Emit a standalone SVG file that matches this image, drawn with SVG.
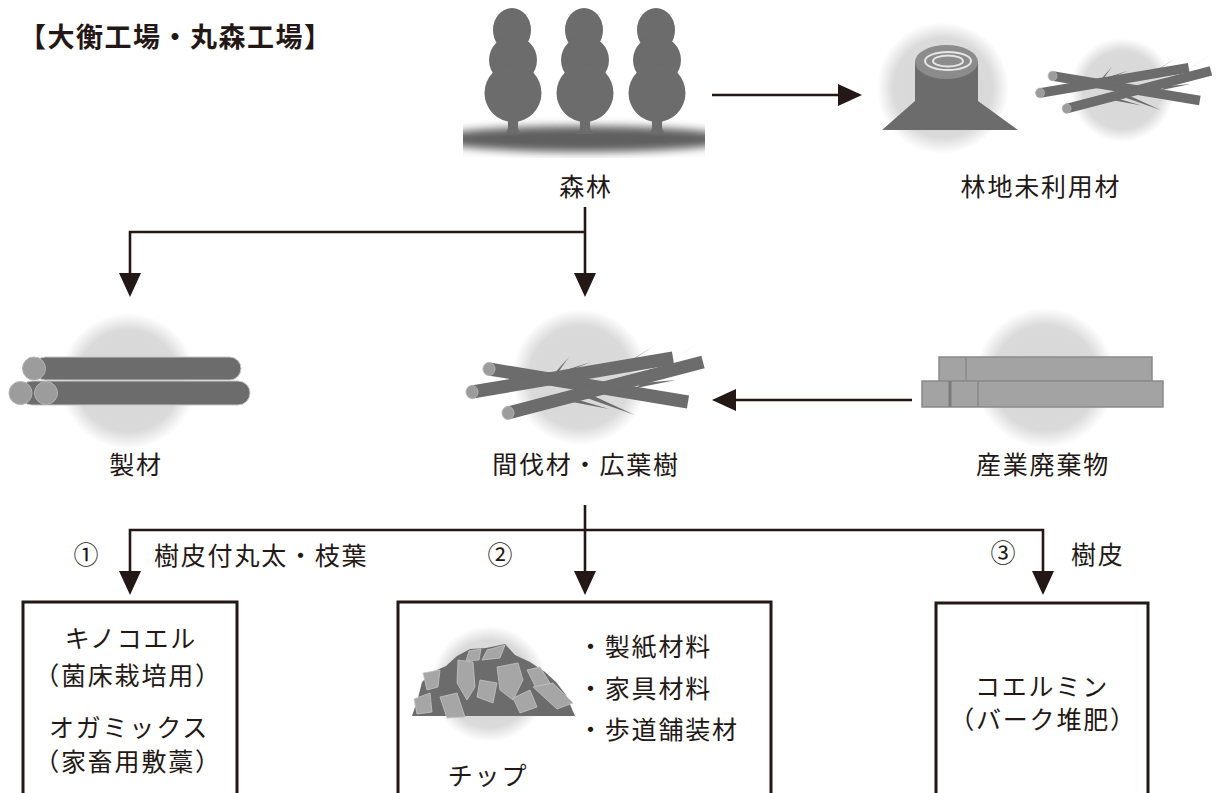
<svg xmlns="http://www.w3.org/2000/svg" width="1216" height="793" viewBox="0 0 1216 793">
  <style>
    .t { font-family: "Noto Sans CJK JP", "Noto Sans", sans-serif; font-size: 25px; letter-spacing: 1.8px; fill: #231815; }
    .mid { text-anchor: middle; }
    .title { font-size: 27px; font-weight: bold; letter-spacing: 1.5px; }
    .conn { fill: none; stroke: #231815; stroke-width: 2.6; }
    .box { fill: none; stroke: #231815; stroke-width: 3; }
    .dark { fill: #6c6c6c; }
    .cap { fill: #9c9c9c; stroke: #b4b4b4; stroke-width: 1; }
    .stick { stroke: #6c6c6c; stroke-width: 13; stroke-linecap: butt; fill: none; }
    .board { fill: #a3a3a3; stroke: #8a8a8a; stroke-width: 1.5; }
    .chip { fill: #a6a6a6; stroke: #c4c4c4; stroke-width: 0.8; }
  </style>
  <defs>
    <marker id="arrow" markerUnits="userSpaceOnUse" markerWidth="24" markerHeight="22" refX="12" refY="11" orient="auto">
      <path d="M0,0 L24,11 L0,22 Z" fill="#231815"/>
    </marker>
    <radialGradient id="halo">
      <stop offset="0" stop-color="#d8d8d8"/>
      <stop offset="0.75" stop-color="#dadada"/>
      <stop offset="1" stop-color="#dadada" stop-opacity="0"/>
    </radialGradient>
    <filter id="soft" x="-10%" y="-10%" width="120%" height="120%">
      <feGaussianBlur stdDeviation="0.7"/>
    </filter>
    <filter id="shadowBlur" x="-20%" y="-100%" width="140%" height="300%">
      <feGaussianBlur stdDeviation="4"/>
    </filter>
    <clipPath id="forestClip">
      <rect x="463" y="5" width="242" height="153"/>
    </clipPath>
    <!-- a bundle of thinning logs with twigs -->
    <g id="branches">
      <polygon class="dark" points="553,375 559,371 569,357"/>
      <polygon class="dark" points="561,374 566,370 591,362"/>
      <polygon class="dark" points="622,367 630,361 655,345"/>
      <polygon class="dark" points="666,365 676,358 702,340"/>
      <polygon class="dark" points="581,396 587,393 635,415"/>
      <polygon class="dark" points="567,401 572,398 609,409"/>
      <polygon class="dark" points="636,388 642,383 676,380"/>
      <line class="stick" x1="489" y1="369" x2="688" y2="402"/>
      <line class="stick" x1="472" y1="392" x2="673" y2="358"/>
      <line class="stick" x1="508" y1="413" x2="703" y2="362"/>
      <ellipse class="cap" cx="489" cy="369" rx="6" ry="6.5"/>
      <ellipse class="cap" cx="472" cy="392" rx="6" ry="6.5"/>
      <ellipse class="cap" cx="508" cy="413" rx="6" ry="6.5"/>
    </g>
  </defs>

  <rect width="1216" height="793" fill="#ffffff"/>

  <!-- heading -->
  <text class="t title" x="19" y="47">【大衡工場・丸森工場】</text>

  <!-- forest -->
  <g id="forest">
    <g clip-path="url(#forestClip)">
      <ellipse cx="584" cy="139" rx="150" ry="13" fill="#5e5e5e" filter="url(#shadowBlur)"/>
    </g>
    <g class="dark" filter="url(#soft)">
      <g id="tree">
        <ellipse cx="512" cy="30" rx="19" ry="22"/>
        <ellipse cx="513" cy="60" rx="24" ry="24"/>
        <ellipse cx="513" cy="93" rx="28.5" ry="29"/>
        <path d="M508,104 H518 V128 Q519,133 523,134 H503 Q507,133 508,128 Z"/>
      </g>
      <use href="#tree" x="72"/>
      <use href="#tree" x="144"/>
    </g>
    <text class="t mid" x="586" y="196">森林</text>
  </g>

  <!-- unused forest residue -->
  <g id="residue">
    <circle cx="943" cy="88" r="66" fill="url(#halo)"/>
    <circle cx="1122" cy="90" r="52" fill="url(#halo)"/>
    <g filter="url(#soft)">
      <path class="dark" d="M915,62 H978 V101 L1018,130 H882 L915,101 Z"/>
      <ellipse cx="946.5" cy="62" rx="31.5" ry="17" fill="#8c8c8c"/>
      <ellipse cx="948" cy="61" rx="23" ry="9" fill="none" stroke="#e6e6e6" stroke-width="2"/>
      <ellipse cx="948" cy="61" rx="15" ry="5.5" fill="none" stroke="#e6e6e6" stroke-width="2"/>
      <use href="#branches" transform="translate(1040 93) scale(0.74) translate(-472 -392)"/>
    </g>
    <text class="t mid" x="1041" y="196">林地未利用材</text>
  </g>

  <!-- sawn timber -->
  <g id="lumber">
    <circle cx="128" cy="381" r="68" fill="url(#halo)"/>
    <g filter="url(#soft)">
      <rect x="20" y="381" width="230" height="24" rx="12" fill="#6c6c6c" stroke="#c8c8c8" stroke-width="1"/>
      <rect x="34" y="357" width="207" height="23" rx="11.5" fill="#6c6c6c" stroke="#c8c8c8" stroke-width="1"/>
      <circle class="cap" cx="34" cy="368.5" r="11.5"/>
      <circle class="cap" cx="20.5" cy="393" r="11.5"/>
      <circle class="cap" cx="46" cy="393" r="11.5"/>
    </g>
    <text class="t mid" x="136" y="474">製材</text>
  </g>

  <!-- thinnings and broadleaf wood -->
  <g id="thinnings">
    <circle cx="580" cy="377" r="68" fill="url(#halo)"/>
    <use href="#branches" filter="url(#soft)"/>
    <text class="t mid" x="586" y="474">間伐材・広葉樹</text>
  </g>

  <!-- industrial waste -->
  <g id="waste">
    <circle cx="1045" cy="378" r="70" fill="url(#halo)"/>
    <g filter="url(#soft)">
      <rect class="board" x="939" y="357" width="213" height="24"/>
      <line x1="966" y1="357" x2="966" y2="381" stroke="#8a8a8a" stroke-width="1.5"/>
      <rect class="board" x="922" y="381" width="241" height="26"/>
      <line x1="950" y1="381" x2="950" y2="407" stroke="#7a7a7a" stroke-width="3"/>
      <line x1="978" y1="381" x2="978" y2="407" stroke="#8a8a8a" stroke-width="1.5"/>
    </g>
    <text class="t mid" x="1043" y="474">産業廃棄物</text>
  </g>

  <!-- connectors -->
  <g id="connectors">
    <path class="conn" d="M712,95 H850" marker-end="url(#arrow)"/>
    <path class="conn" d="M585,207 V285" marker-end="url(#arrow)"/>
    <path class="conn" d="M585,232 H130 V285" marker-end="url(#arrow)"/>
    <path class="conn" d="M912,400 H724" marker-end="url(#arrow)"/>
    <path class="conn" d="M585,505 V583" marker-end="url(#arrow)"/>
    <path class="conn" d="M585,530 H130 V583" marker-end="url(#arrow)"/>
    <path class="conn" d="M585,530 H1043 V583" marker-end="url(#arrow)"/>
    <text class="t mid" x="87" y="564">①</text>
    <text class="t" x="154" y="565">樹皮付丸太・枝葉</text>
    <text class="t mid" x="501" y="564">②</text>
    <text class="t mid" x="1004" y="562">③</text>
    <text class="t" x="1071" y="564">樹皮</text>
  </g>

  <!-- product 1: mushroom bed / livestock bedding -->
  <g id="product-mushroom">
    <path class="box" d="M23,800 V602 H237 V800"/>
    <text class="t mid" x="131" y="648">キノコエル</text>
    <text class="t mid" x="128" y="685">（菌床栽培用）</text>
    <text class="t mid" x="129" y="737">オガミックス</text>
    <text class="t mid" x="128" y="771">（家畜用敷藁）</text>
  </g>

  <!-- product 2: chips -->
  <g id="product-chips">
    <path class="box" d="M398,800 V602 H771 V800"/>
    <circle cx="489" cy="684" r="58" fill="url(#halo)"/>
    <g filter="url(#soft)">
      <polygon class="dark" points="412,716 418,698 422,682 432,672 446,666 457,656 470,649 486,648 505,644 515,655 530,662 545,672 556,682 566,695 575,716"/>
      <polygon class="chip" points="469,651 481,649 479,660 466,661"/>
      <polygon class="chip" points="487,650 505,645 500,658 482,660"/>
      <polygon class="chip" points="458,660 473,662 475,687 467,700 457,683"/>
      <polygon class="chip" points="497,667 518,663 523,680 513,700 500,690"/>
      <polygon class="chip" points="527,670 540,667 550,683 537,690"/>
      <polygon class="chip" points="533,687 553,683 573,703 557,709"/>
      <polygon class="chip" points="414,699 430,693 432,712 417,714"/>
      <polygon class="chip" points="440,697 457,693 465,717 447,718"/>
      <polygon class="chip" points="480,680 497,683 493,703 477,697"/>
      <polygon class="chip" points="513,698 530,690 537,707 520,713"/>
      <polygon class="chip" points="423,673 440,670 438,687 427,690"/>
    </g>
    <text class="t" x="578" y="656">・製紙材料</text>
    <text class="t" x="578" y="698">・家具材料</text>
    <text class="t" x="578" y="739">・歩道舗装材</text>
    <text class="t mid" x="488" y="785">チップ</text>
  </g>

  <!-- product 3: bark compost -->
  <g id="product-compost">
    <path class="box" d="M936,800 V603 H1148 V800"/>
    <text class="t mid" x="1042" y="696">コエルミン</text>
    <text class="t mid" x="1043" y="729">（バーク堆肥）</text>
  </g>
</svg>
